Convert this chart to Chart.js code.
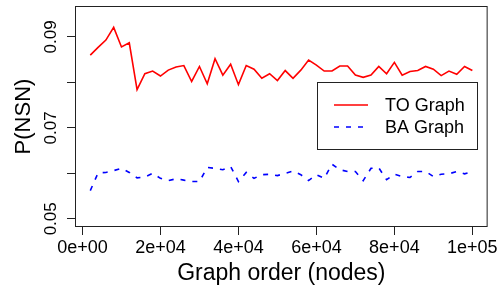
<!DOCTYPE html>
<html>
<head>
<meta charset="utf-8">
<script src="https://cdn.jsdelivr.net/npm/chart.js@4/dist/chart.umd.min.js"></script>
<style>
  html, body { margin: 0; padding: 0; background: #fff; }
  canvas { display: block; }
</style>
</head>
<body>
<canvas id="nsnChart" width="500" height="292"></canvas>
<script>
// graph order (x values)
const nodes = [2000, 4000, 6000, 8000, 10000, 12000, 14000, 16000, 18000, 20000,
  22000, 24000, 26000, 28000, 30000, 32000, 34000, 36000, 38000, 40000,
  42000, 44000, 46000, 48000, 50000, 52000, 54000, 56000, 58000, 60000,
  62000, 64000, 66000, 68000, 70000, 72000, 74000, 76000, 78000, 80000,
  82000, 84000, 86000, 88000, 90000, 92000, 94000, 96000, 98000, 100000];

// P(NSN) values
const toGraph = [0.0860, 0.0877, 0.0893, 0.0921, 0.0878, 0.0887, 0.0784, 0.0819, 0.0825, 0.0814,
  0.0827, 0.0834, 0.0837, 0.0802, 0.0835, 0.0797, 0.0852, 0.0816, 0.0840, 0.0795,
  0.0837, 0.0829, 0.0809, 0.0819, 0.0804, 0.0826, 0.0809, 0.0827, 0.0849, 0.0838,
  0.0825, 0.0825, 0.0836, 0.0836, 0.0816, 0.0811, 0.0816, 0.0835, 0.0819, 0.0844,
  0.0816, 0.0824, 0.0826, 0.0835, 0.0829, 0.0815, 0.0825, 0.0818, 0.0835, 0.0826];

const baGraph = [0.0562, 0.0601, 0.0602, 0.0606, 0.0611, 0.0602, 0.0590, 0.0592, 0.0600, 0.0589,
  0.0584, 0.0588, 0.0585, 0.0582, 0.0582, 0.0613, 0.0611, 0.0608, 0.0615, 0.0582,
  0.0602, 0.0589, 0.0597, 0.0598, 0.0595, 0.0600, 0.0605, 0.0597, 0.0584, 0.0597,
  0.0589, 0.0620, 0.0608, 0.0604, 0.0604, 0.0584, 0.0611, 0.0612, 0.0586, 0.0598,
  0.0593, 0.0591, 0.0604, 0.0604, 0.0593, 0.0598, 0.0599, 0.0604, 0.0599, 0.0604];

// axis ticks
const xTicks = [0, 20000, 40000, 60000, 80000, 100000];
const xTickLabels = ['0e+00', '2e+04', '4e+04', '6e+04', '8e+04', '1e+05'];
const yTicks = [0.05, 0.06, 0.07, 0.08, 0.09];
const yTickLabels = ['0.05', '', '0.07', '', '0.09'];

const FONT = '"Liberation Sans", Arial, Helvetica, sans-serif';

// box around the plot region + rotated y labels + legend
const rStyle = {
  id: 'rStyle',
  afterDraw(chart) {
    const ctx = chart.ctx;
    const a = chart.chartArea;
    const y = chart.scales.y;
    ctx.save();
    ctx.strokeStyle = '#222';
    ctx.lineWidth = 1;
    ctx.strokeRect(a.left + 0.5, a.top + 0.5, a.right - a.left - 1, a.bottom - a.top - 1);

    // y tick labels, rotated like R
    ctx.fillStyle = '#000';
    ctx.font = '17px ' + FONT;
    ctx.textAlign = 'center';
    ctx.textBaseline = 'middle';
    yTicks.forEach((v, i) => {
      if (!yTickLabels[i]) return;
      ctx.save();
      ctx.translate(51, y.getPixelForValue(v));
      ctx.rotate(-Math.PI / 2);
      ctx.fillText(yTickLabels[i], 0, 0);
      ctx.restore();
    });

    // legend
    ctx.fillStyle = '#fff';
    ctx.fillRect(317, 82, 160, 67);
    ctx.strokeStyle = '#222';
    ctx.strokeRect(317.5, 82.5, 160, 67);
    ctx.font = '18px ' + FONT;
    ctx.textAlign = 'left';
    chart.data.datasets.forEach((ds, i) => {
      const ly = 105 + i * 22;
      ctx.strokeStyle = ds.borderColor;
      ctx.lineWidth = ds.borderWidth;
      ctx.setLineDash(ds.borderDash || []);
      ctx.beginPath();
      ctx.moveTo(334, ly);
      ctx.lineTo(368, ly);
      ctx.stroke();
      ctx.setLineDash([]);
      ctx.fillStyle = '#000';
      ctx.fillText(ds.label, 385, ly + 1);
    });
    ctx.restore();
  }
};

document.addEventListener('DOMContentLoaded', function() {
    var ctx = document.getElementById('nsnChart').getContext('2d');
    new Chart(ctx, {
        type: 'line',
        data: {
            labels: nodes,
            datasets: [{
                label: 'TO Graph',
                data: nodes.map((x, i) => ({ x: x, y: toGraph[i] })),
                borderColor: '#ff0000',
                borderWidth: 1.6,
                pointRadius: 0,
                tension: 0
            }, {
                label: 'BA Graph',
                data: nodes.map((x, i) => ({ x: x, y: baGraph[i] })),
                borderColor: '#0000ff',
                borderWidth: 1.6,
                borderDash: [5, 7],
                pointRadius: 0,
                tension: 0
            }]
        },
        options: {
            responsive: false,
            animation: false,
            devicePixelRatio: 1,
            layout: { padding: { top: 6, right: 10, left: 0, bottom: 0 } },
            plugins: { legend: { display: false }, tooltip: { enabled: false } },
            scales: {
                x: {
                    type: 'linear',
                    min: -1920,
                    max: 103920,
                    afterBuildTicks: s => { s.ticks = xTicks.map(v => ({ value: v })); },
                    afterFit: s => { s.height = 65; },
                    border: { display: false },
                    grid: { drawOnChartArea: false, drawTicks: true, tickLength: 8, color: '#222' },
                    ticks: {
                        color: '#000',
                        padding: 2,
                        maxRotation: 0,
                        autoSkip: false,
                        font: { family: FONT, size: 18 },
                        callback: (v) => xTickLabels[xTicks.indexOf(v)]
                    },
                    title: {
                        display: true,
                        text: 'Graph order (nodes)',
                        color: '#000',
                        font: { family: FONT, size: 23 },
                        padding: { top: 0, bottom: 5 }
                    }
                },
                y: {
                    min: 0.0482,
                    max: 0.0968,
                    afterBuildTicks: s => { s.ticks = yTicks.map(v => ({ value: v })); },
                    afterFit: s => { s.width = 75; },
                    border: { display: false },
                    grid: { drawOnChartArea: false, drawTicks: true, tickLength: 8, color: '#222' },
                    ticks: { display: false },
                    title: {
                        display: true,
                        text: 'P(NSN)',
                        color: '#000',
                        font: { family: FONT, size: 22 },
                        padding: { top: 11, bottom: 0 }
                    }
                }
            }
        },
        plugins: [rStyle]
    });
});
</script>
</body>
</html>
